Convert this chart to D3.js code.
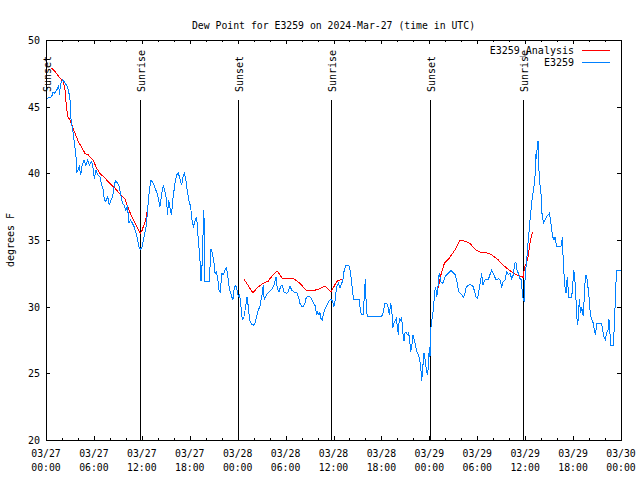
<!DOCTYPE html>
<html><head><meta charset="utf-8">
<script src="https://cdn.jsdelivr.net/npm/d3@7"></script>
<style>
html,body{margin:0;padding:0;background:#fff;}
svg{display:block;}
text{font-family:"DejaVu Sans Mono","Liberation Mono",monospace;fill:#000;}
</style></head>
<body><svg id="c" width="640" height="480"></svg>
<script>
// ---- data (hours since 2024-03-27 00:00 UTC) ----
const titleText = "Dew Point for E3259 on 2024-Mar-27 (time in UTC)";
const yLabelText = "degrees F";
const seriesNames = ["E3259_Analysis", "E3259"];
const seriesColors = ["#ff0000", "#0080ff"];

const xTickHours = [0,6,12,18,24,30,36,42,48,54,60,66,72];
const xTickDates = ["03/27","03/27","03/27","03/27","03/28","03/28","03/28","03/28","03/29","03/29","03/29","03/29","03/30"];
const xTickTimes = ["00:00","06:00","12:00","18:00","00:00","06:00","12:00","18:00","00:00","06:00","12:00","18:00","00:00"];
const yTicks = [20,25,30,35,40,45,50];

const sunHours = [0.03, 11.78, 24.07, 35.74, 48.1, 59.75];
const sunLabels = ["Sunset","Sunrise","Sunset","Sunrise","Sunset","Sunrise"];

const anaHours = [0.71,1.13,1.54,1.96,2.17,2.38,2.5,2.71,3.0,3.34,3.63,4.05,4.47,4.88,5.3,5.93,6.35,6.76,7.39,8.01,8.64,9.27,9.9,10.3,10.73,11.27,11.77,11.98,12.18,12.48,12.6,12.8,
  null,
  24.8,25.9,26.6,27.2,27.8,28.3,28.96,29.6,31.0,31.8,32.6,33.4,34.1,34.9,35.7,36.4,37.0,
  null,
  49.05,49.46,49.88,50.38,50.8,51.2,51.84,52.47,53.09,53.72,54.35,54.97,55.8,56.64,57.06,58.1,58.9,59.77,59.9,60.3,60.6,60.9];
const anaValues = [47.88,47.63,47.3,47.0,46.88,46.25,45.38,44.25,44.0,43.45,43.0,42.38,41.95,41.5,41.38,40.95,40.38,40.0,39.63,39.25,38.88,38.45,38.05,37.38,36.75,36.13,35.5,35.63,36.0,36.5,37.0,37.43,
  null,
  32.05,31.05,31.5,31.75,31.9,32.3,32.67,32.1,32.1,31.75,31.2,31.2,31.3,31.55,31.1,31.9,32.05,
  null,
  31.3,32.4,33.25,33.55,33.9,34.25,35.0,34.9,34.75,34.3,34.1,34.07,33.9,33.5,33.2,32.7,32.4,32.2,32.9,33.5,34.75,35.6];

const obsHours = [0.08,0.7,0.9,1.1,1.4,1.6,1.67,1.85,2.1,2.4,2.6,2.8,3.0,3.09,3.3,3.42,3.6,3.72,3.84,4.05,4.17,4.35,4.5,4.76,5.0,5.22,5.43,5.72,5.93,6.05,6.26,6.47,6.76,6.97,7.17,7.3,7.51,7.72,7.93,8.14,8.35,8.55,8.7,8.97,9.18,9.4,9.57,9.77,9.98,10.2,10.4,10.6,10.82,11.03,11.24,11.48,11.65,11.86,12.03,12.28,12.53,12.7,12.82,12.95,13.15,13.44,13.65,13.86,14.07,14.27,14.49,14.7,14.91,15.12,15.2,15.37,15.58,15.72,15.87,16.07,16.24,16.4,16.57,16.78,16.99,17.16,17.33,17.49,17.62,17.74,17.91,18.12,18.24,18.45,18.66,18.87,18.99,19.16,19.29,19.41,19.58,19.74,19.83,19.91,20.45,20.58,20.66,20.83,21.0,21.17,21.33,21.5,21.67,21.83,22.0,22.21,22.42,22.58,22.75,22.9,23.08,23.25,23.4,23.58,23.75,23.92,24.08,24.25,24.42,24.58,24.75,25.0,25.17,25.33,25.5,25.75,25.96,26.17,26.37,26.58,26.79,26.92,27.08,27.2,27.33,27.62,27.92,28.25,28.55,28.8,28.96,29.17,29.4,29.6,29.8,30.1,30.3,30.55,30.76,31.05,31.38,31.6,31.8,32.0,32.2,32.43,32.55,32.8,33.05,33.26,33.47,33.68,33.9,34.0,34.18,34.3,34.43,34.6,34.72,34.89,35.06,35.22,35.39,35.56,35.72,35.89,36.06,36.18,36.4,36.6,36.81,37.02,37.15,37.3,37.5,37.73,37.98,38.15,38.28,38.5,39.2,39.4,39.53,39.74,39.9,40.0,40.1,40.24,42.0,42.2,42.45,42.66,42.85,42.99,43.16,43.29,43.41,43.58,43.7,43.87,43.99,44.12,44.24,44.41,44.54,44.66,44.83,44.95,45.08,45.25,45.37,45.5,45.66,45.79,45.96,46.12,46.29,46.46,46.62,46.79,46.92,47.04,47.17,47.33,47.46,47.58,47.75,47.87,48.0,48.08,48.17,48.21,48.38,48.55,48.63,48.8,48.92,49.05,49.13,49.25,49.42,49.63,49.8,49.96,50.21,50.46,50.71,51.0,51.22,51.42,51.55,51.72,51.88,52.05,52.25,52.47,52.59,52.8,53.09,53.3,53.5,53.72,53.84,54.05,54.13,54.3,54.56,54.68,54.97,55.39,55.8,56.01,56.35,56.64,56.85,57.06,57.27,57.48,57.69,57.89,58.1,58.31,58.52,58.69,58.85,59.02,59.19,59.35,59.52,59.65,59.77,59.89,59.98,60.1,60.19,60.32,60.48,60.61,60.77,60.9,61.02,61.15,61.27,61.36,61.44,61.52,61.61,61.69,61.77,61.86,61.98,62.07,62.19,62.27,62.48,62.69,62.9,63.02,63.2,63.32,63.44,63.61,63.77,63.86,63.95,64.36,64.57,64.65,64.78,64.86,64.99,65.11,65.2,65.28,65.36,65.45,65.82,65.95,66.08,66.2,66.33,66.45,66.58,66.66,66.78,66.95,67.08,67.2,67.28,67.49,67.62,67.78,67.9,68.03,68.16,68.33,68.53,68.66,68.78,68.87,68.95,69.58,69.7,69.87,70.03,70.2,70.37,70.49,70.62,70.7,71.03,71.12,71.24,71.37,71.45,72.0];
const obsValues = [45.6,45.75,46.1,46.0,46.3,46.6,45.9,46.75,47.05,46.75,46.6,46.25,45.6,44.25,43.4,43.0,42.0,41.7,40.1,40.3,40.5,39.9,40.5,41.0,40.6,41.0,40.6,40.9,40.25,39.6,40.25,39.9,39.75,39.1,38.75,38.0,37.9,38.25,37.6,38.0,38.25,39.1,39.45,39.25,39.0,38.25,37.75,37.6,37.25,37.5,36.25,36.5,36.25,36.0,35.6,35.0,34.45,34.3,34.5,35.25,36.0,37.0,38.0,38.75,39.5,39.25,38.9,38.6,38.1,37.5,38.5,39.1,38.6,37.9,36.9,38.0,37.25,36.9,38.0,38.9,39.6,39.9,40.0,39.6,39.1,39.75,40.0,39.6,39.0,38.5,37.9,37.5,36.6,36.0,36.4,36.75,35.6,34.4,33.4,31.9,33.5,37.25,36.0,31.9,31.9,33.5,34.3,34.0,33.5,32.5,32.6,32.1,31.25,31.1,32.5,32.4,32.75,32.9,32.4,31.6,31.1,30.75,30.5,31.4,31.6,31.25,30.75,30.9,30.0,29.05,29.1,30.0,30.75,30.0,29.0,28.7,28.6,28.75,29.25,29.75,30.0,30.5,31.0,31.6,30.5,30.9,31.1,31.3,31.6,32.2,31.4,31.1,31.55,31.6,31.1,31.0,31.1,31.55,31.25,31.1,31.1,30.75,30.25,30.05,30.0,30.25,30.6,30.8,30.75,30.55,30.3,30.1,29.4,29.6,29.4,29.55,29.1,29.0,29.4,29.75,30.0,30.15,30.4,30.5,30.55,30.4,30.0,30.4,31.5,31.75,31.4,31.75,31.9,32.6,33.05,33.1,33.05,32.5,31.75,30.55,30.55,29.6,29.45,29.45,31.4,32.1,30.0,29.25,29.25,29.5,30.25,30.25,29.9,29.4,30.25,29.9,28.4,28.75,28.9,29.1,28.5,27.9,29.1,29.0,29.2,28.1,27.4,28.0,28.1,27.9,28.0,27.75,26.6,27.0,27.9,27.5,27.0,26.6,26.4,26.0,25.5,24.4,25.4,26.5,26.1,25.5,24.9,25.4,27.0,26.25,27.9,28.5,29.25,29.95,31.0,31.5,30.75,31.1,32.1,32.5,31.9,31.75,31.9,32.25,32.4,32.55,32.7,32.55,32.4,32.0,31.5,31.1,31.0,30.9,30.7,31.0,31.4,31.6,31.65,31.6,31.5,31.0,30.75,30.6,30.9,31.5,32.5,31.6,32.0,32.05,32.75,32.5,32.0,32.1,32.0,31.5,31.9,32.0,32.6,32.4,32.5,32.1,32.4,33.25,33.3,32.6,32.5,32.1,32.0,31.0,30.5,30.4,32.0,32.9,33.5,34.5,35.6,36.5,37.5,38.25,38.6,39.25,40.0,41.5,41.1,42.25,42.4,41.0,39.5,39.1,38.5,37.1,36.75,36.25,36.5,36.75,36.9,37.0,36.4,35.75,35.25,35.0,35.25,34.75,34.5,34.5,34.6,35.25,33.25,32.5,31.5,31.0,31.75,32.25,31.5,30.7,30.7,31.5,32.75,32.25,31.0,29.3,28.6,29.25,30.55,29.5,30.0,29.5,29.3,31.75,32.4,32.0,31.25,30.5,29.4,29.1,28.75,28.25,27.9,28.25,28.75,28.75,28.25,27.75,27.5,28.0,28.25,29.1,28.0,27.1,27.1,28.0,29.75,31.75,32.75,32.75];

// ---- layout ----
const L = 46, R = 621, T = 40, B = 440;
const svg = d3.select("#c");
const x = d3.scaleLinear().domain([0,72]).range([L,R]);
const y = d3.scaleLinear().domain([20,50]).range([B,T]);
const minorHours = d3.range(0,73,2);

// title
svg.append("text").attr("x",(L+R)/2).attr("y",28.5).attr("text-anchor","middle")
  .attr("font-size","9.8px").text(titleText);

// y label
svg.append("text").attr("transform",`translate(14,${(T+B)/2}) rotate(-90)`)
  .attr("text-anchor","middle").attr("font-size","10px").text(yLabelText);

const axG = svg.append("g").attr("shape-rendering","crispEdges");
function styleAxis(g){ g.select(".domain").remove(); g.selectAll("line").attr("stroke","#000"); g.attr("font-family",null).attr("font-size",null); }

// minor x ticks bottom/top
axG.append("g").attr("transform",`translate(0,${B})`).call(d3.axisBottom(x).tickValues(minorHours).tickSize(-2).tickFormat("")).call(styleAxis);
axG.append("g").attr("transform",`translate(0,${T})`).call(d3.axisTop(x).tickValues(minorHours).tickSize(-2).tickFormat("")).call(styleAxis);
// major x ticks
axG.append("g").attr("transform",`translate(0,${B})`).call(d3.axisBottom(x).tickValues(xTickHours).tickSize(-4).tickFormat("")).call(styleAxis);
axG.append("g").attr("transform",`translate(0,${T})`).call(d3.axisTop(x).tickValues(xTickHours).tickSize(-4).tickFormat("")).call(styleAxis);
// y ticks
const yl = axG.append("g").attr("transform",`translate(${L},0)`).call(d3.axisLeft(y).tickValues(yTicks).tickSize(-4).tickPadding(6).tickFormat(d3.format("d"))).call(styleAxis);
yl.selectAll("text").attr("font-size","10px").attr("dy","0.36em");
axG.append("g").attr("transform",`translate(${R},0)`).call(d3.axisRight(y).tickValues(yTicks).tickSize(-4).tickFormat("")).call(styleAxis);

// x tick labels (two lines)
const xl = svg.append("g");
xTickHours.forEach((h,i)=>{
  const t = xl.append("text").attr("text-anchor","middle").attr("font-size","9.8px");
  t.append("tspan").attr("x",x(h)).attr("y",457).text(xTickDates[i]);
  t.append("tspan").attr("x",x(h)).attr("y",471).text(xTickTimes[i]);
});

// frame
svg.append("rect").attr("x",L).attr("y",T).attr("width",R-L).attr("height",B-T)
  .attr("fill","none").attr("stroke","#000").attr("shape-rendering","crispEdges");

// sun lines
const sunG = svg.append("g");
sunHours.forEach((h,i)=>{
  sunG.append("line").attr("x1",x(h)).attr("x2",x(h)).attr("y1",y(45.5)).attr("y2",B)
    .attr("stroke","#000").attr("shape-rendering","crispEdges");
  sunG.append("text").attr("transform",`translate(${x(h)+5},${y(46.1)}) rotate(-90)`)
    .attr("text-anchor","start").attr("font-size","10px").text(sunLabels[i]);
});

// series
const ana = anaHours.map((h,i)=>({h, v: anaValues[i]}));
const obs = obsHours.map((h,i)=>({h, v: obsValues[i]}));
const line = d3.line().defined(d=>d.h!==null && d.v!==null).x(d=>x(d.h)).y(d=>y(d.v));
svg.append("path").datum(ana).attr("d",line).attr("fill","none").attr("stroke",seriesColors[0]).attr("stroke-width",1).attr("shape-rendering","crispEdges");
svg.append("path").datum(obs).attr("d",line).attr("fill","none").attr("stroke",seriesColors[1]).attr("stroke-width",1).attr("shape-rendering","crispEdges");

// legend
const lg = svg.append("g");
seriesNames.forEach((n,i)=>{
  const yy = 50 + i*12;
  lg.append("text").attr("x",574).attr("y",yy).attr("dy","0.36em").attr("text-anchor","end").attr("font-size","10px").text(n);
  lg.append("line").attr("x1",582).attr("x2",610).attr("y1",yy).attr("y2",yy).attr("stroke",seriesColors[i]).attr("shape-rendering","crispEdges");
});
</script></body></html>
